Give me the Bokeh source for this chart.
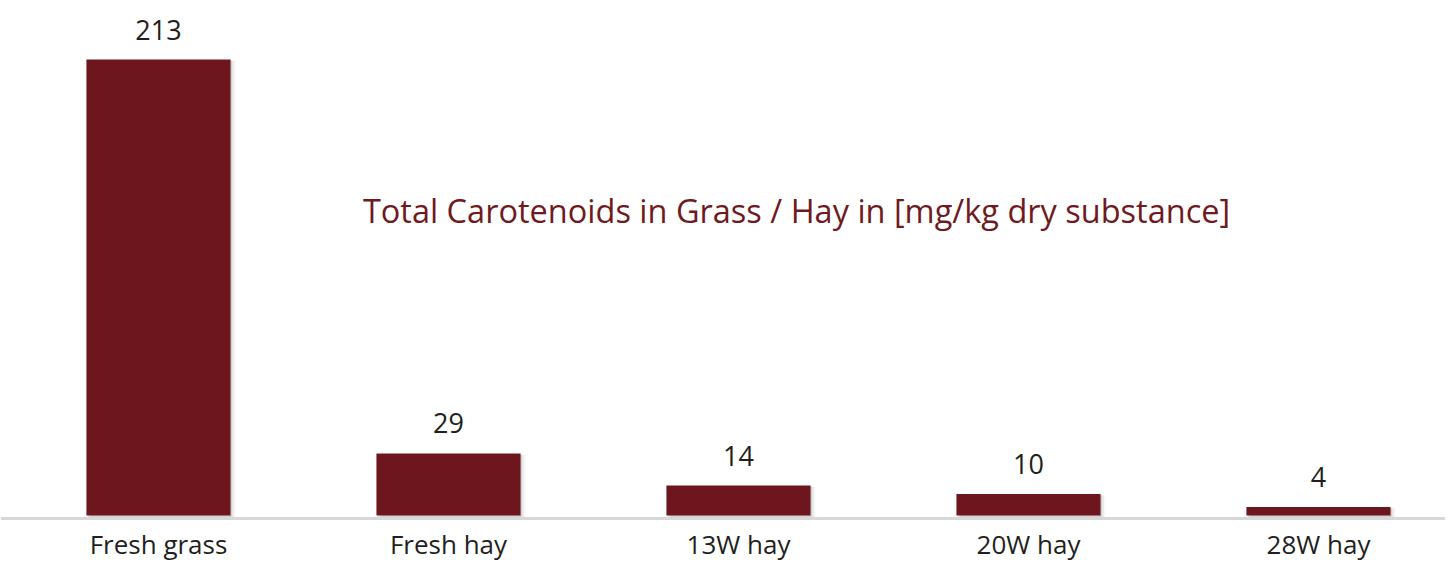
from bokeh.plotting import figure
from bokeh.models import Span, Label, ColumnDataSource
from bokeh.transform import dodge
from bokeh.embed import file_html
from bokeh.resources import INLINE
from bokeh.core.properties import value

categories = ["Fresh grass", "Fresh hay", "13W hay", "20W hay", "28W hay"]
values = [213, 29, 14, 10, 4]
title_text = "Total Carotenoids in Grass / Hay in [mg/kg dry substance]"

xs = list(range(len(categories)))
src = ColumnDataSource(dict(x=xs, v=values, lbl=[str(v) for v in values],
                            cat=categories, ybot=[-13.5] * len(xs)))

W, H = 1445, 565
px_per_unit_y = 2.1408
y_end = 515 / px_per_unit_y
y_start = y_end - H / px_per_unit_y
x_start = -158 / 290
x_end = x_start + W / 290

p = figure(width=W, height=H, output_backend="svg", toolbar_location=None,
           x_range=(x_start, x_end), y_range=(y_start, y_end),
           min_border=0, min_border_left=0, min_border_right=0,
           min_border_top=0, min_border_bottom=0)
p.axis.visible = False
p.grid.visible = False
p.outline_line_color = None
p.background_fill_color = "white"
p.border_fill_color = "white"

# soft shadow
for off, a in [(0.005, 0.22), (0.011, 0.13), (0.017, 0.06)]:
    p.vbar(x=dodge("x", off, range=p.x_range), top=dodge("v", -0.6, range=p.y_range),
           bottom=-0.9, width=0.497,
           source=src, fill_color="#808080", fill_alpha=a, line_color=None)

p.vbar(x="x", top="v", bottom=0, width=0.497, source=src,
       fill_color="#6e161e", line_color=None)

p.add_layout(Span(location=-1.4, dimension="width", line_color="#d8d8d8", line_width=3))

p.text(x="x", y="v", text="lbl", source=src, text_align="center",
       text_baseline="bottom", y_offset=-20, text_font=value("Open Sans"),
       text_font_size="27px", text_color="#231f20")

p.text(x="x", y="ybot", text="cat", source=src, text_align="center",
       text_baseline="middle", text_font=value("Open Sans"),
       text_font_size="26px", text_color="#231f20")

p.add_layout(Label(x=796, y=H - 210, x_units="screen", y_units="screen",
                   text=title_text, text_align="center", text_baseline="middle",
                   text_font="Open Sans", text_font_size="32.5px", text_color="#6f1a1e"))

open("out.html", "w").write(file_html(p, INLINE))
